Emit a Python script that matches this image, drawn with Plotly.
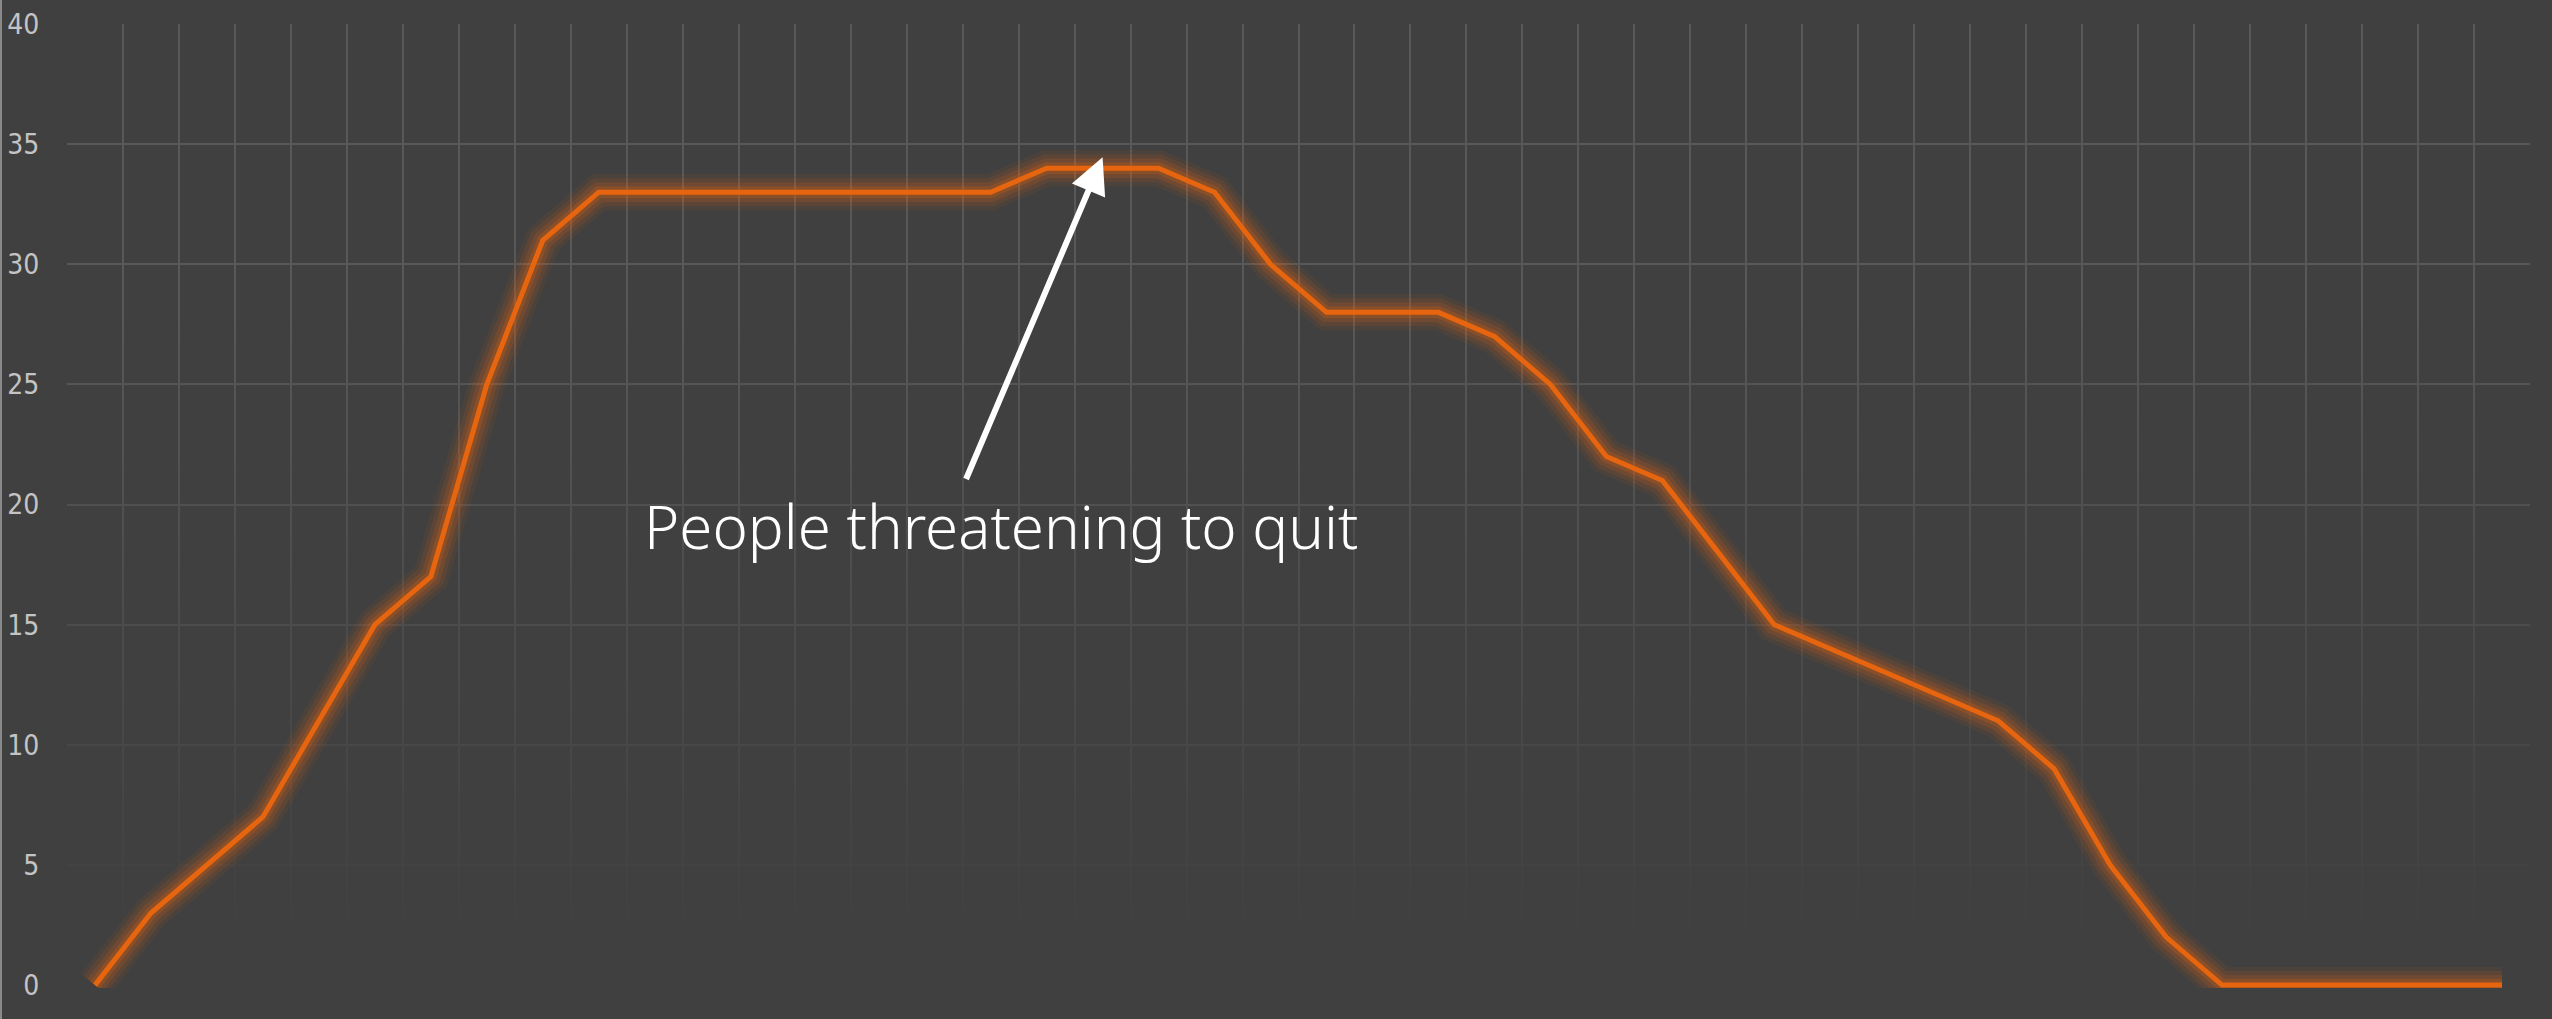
import plotly.graph_objects as go

# ---- data ----
periods = list(range(44))
people = [0, 3, 5, 7, 11, 15, 17, 25, 31, 33,
          33, 33, 33, 33, 33, 33, 33, 34, 34, 34,
          33, 30, 28, 28, 28, 27, 25, 22, 21, 18,
          15, 14, 13, 12, 11, 9, 5, 2, 0, 0,
          0, 0, 0, 0]
y_ticks = [0, 5, 10, 15, 20, 25, 30, 35, 40]
annotation_text = "People threatening to quit"

BG = "#404040"
GRID = "#585858"
ORANGE = "#E8650F"

fig = go.Figure()

# fade of the grid towards the bottom (overlay between grid and line)
fig.add_trace(go.Scatter(
    x=[-0.5, 43.5, 43.5, -0.5], y=[-1, -1, 40, 40],
    fill="toself", mode="none", hoverinfo="skip", showlegend=False,
    fillgradient=dict(type="vertical", start=0, stop=40,
                      colorscale=[[0, "rgba(64,64,64,1)"],
                                  [0.08, "rgba(64,64,64,0.95)"],
                                  [0.35, "rgba(64,64,64,0.55)"],
                                  [0.7, "rgba(64,64,64,0)"],
                                  [1, "rgba(64,64,64,0)"]]),
))

# glow layers
for w, a in [(36, 0.07), (28, 0.10), (20, 0.14), (12, 0.22)]:
    fig.add_trace(go.Scatter(
        x=periods, y=people, mode="lines", hoverinfo="skip", showlegend=False,
        line=dict(color=f"rgba(232,101,15,{a})", width=w, shape="linear"),
    ))

fig.add_trace(go.Scatter(
    x=periods, y=people, mode="lines", showlegend=False,
    line=dict(color=ORANGE, width=5),
))

# arrow
fig.add_annotation(
    x=18.0, y=34.45, ax=15.55, ay=21.0, xref="x", yref="y", axref="x", ayref="y",
    text="", showarrow=True, arrowhead=2, arrowsize=1.2, arrowwidth=6,
    arrowcolor="white", standoff=0, startstandoff=0,
)
# label
fig.add_annotation(
    x=16.18, y=19.1, xref="x", yref="y", text=annotation_text, showarrow=False,
    font=dict(family="Noto Sans", size=60, color="white", weight=300),
)

# thin light border at left edge of the page
fig.add_shape(type="line", xref="paper", yref="paper",
              x0=-0.0268, x1=-0.0268, y0=-0.04, y1=1.03,
              line=dict(color="#8a8a8a", width=2))

fig.update_layout(
    width=2552, height=1019,
    paper_bgcolor=BG, plot_bgcolor=BG,
    margin=dict(l=67, r=22, t=24, b=31, autoexpand=False),
    showlegend=False,
)
fig.update_xaxes(
    range=[-0.5, 43.5], tick0=-0.5, dtick=1, showgrid=True, gridcolor=GRID,
    gridwidth=2, showticklabels=False, zeroline=False, showline=False, ticks="",
    automargin=False,
)
fig.update_yaxes(
    range=[-0.12, 40], tickvals=y_ticks, showgrid=True, gridcolor=GRID, gridwidth=2,
    zeroline=False, showline=False, ticks="outside", ticklen=21, tickcolor="rgba(0,0,0,0)",
    automargin=False,
    tickfont=dict(family="DejaVu Sans Condensed, Roboto", size=28, color="#c4c4c4",
                  weight=200),
)

fig.write_html(
    "out.html",
    config={"displayModeBar": False},
    post_script="document.body.style.margin='0';document.body.style.overflow='hidden';"
                "document.body.style.background='#404040';",
)
